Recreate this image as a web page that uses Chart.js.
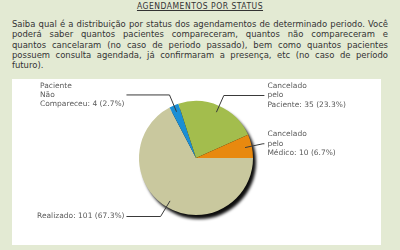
<!DOCTYPE html>
<html><head><meta charset="utf-8">
<script src="https://cdn.jsdelivr.net/npm/chart.js@4"></script>
<style>
html,body{margin:0;padding:0;}
body{width:400px;height:250px;background:#e3ead3;position:relative;overflow:hidden;font-family:"DejaVu Sans Condensed","DejaVu Sans",sans-serif;color:#333;}
#title{position:absolute;left:0;top:1px;width:400px;text-align:center;font-size:8.5px;line-height:10px;text-decoration:underline;letter-spacing:0.5px;}
#para{position:absolute;left:12px;top:19px;width:376px;font-size:9.4px;line-height:10.3px;}
#para div{text-align:justify;text-align-last:justify;white-space:nowrap;}
#para div.last{text-align-last:left;}
#panel{position:absolute;left:12px;top:79px;width:369px;height:166px;background:#fff;}
</style></head>
<body>
<div id="title">AGENDAMENTOS POR STATUS</div>
<div id="para">
<div>Saiba qual é a distribuição por status dos agendamentos de determinado periodo. Você</div>
<div>poderá saber quantos pacientes compareceram, quantos não compareceram e</div>
<div>quantos cancelaram (no caso de periodo passado), bem como quantos pacientes</div>
<div>possuem consulta agendada, já confirmaram a presença, etc (no caso de período</div>
<div class="last">futuro).</div>
</div>
<div id="panel"><canvas id="c" width="369" height="166"></canvas></div>
<script>
const categories = [
  ["Realizado"],
  ["Paciente", "Não", "Compareceu"],
  ["Cancelado", "pelo", "Paciente"],
  ["Cancelado", "pelo", "Médico"]
];
const values = [101, 4, 35, 10];
const colors = ["#c9c89e", "#1b8fd5", "#a3bd4d", "#e8890f"];

const total = values.reduce((a, b) => a + b, 0);
const labelLines = categories.map((c, i) => {
  const pct = (values[i] / total * 100).toFixed(1);
  const lines = c.slice();
  lines[lines.length - 1] = lines[lines.length - 1] + ": " + values[i] + " (" + pct + "%)";
  return lines;
});

const shadowPlugin = {
  id: 'pieShadow',
  beforeDatasetsDraw(chart) {
    const arc = chart.getDatasetMeta(0).data[0];
    if (!arc) return;
    const ctx = chart.ctx;
    ctx.save();
    ctx.filter = 'blur(1.5px)';
    ctx.fillStyle = 'rgba(0,0,0,0.95)';
    ctx.beginPath();
    ctx.arc(arc.x + 3, arc.y + 4, arc.outerRadius, 0, Math.PI * 2);
    ctx.fill();
    ctx.restore();
  }
};

const labelPlugin = {
  id: 'outLabels',
  afterDatasetsDraw(chart) {
    const ctx = chart.ctx;
    const meta = chart.getDatasetMeta(0);
    ctx.save();
    ctx.font = '7.5px "DejaVu Sans", sans-serif';
    ctx.textBaseline = 'middle';
    meta.data.forEach((arc, i) => {
      const mid = (arc.startAngle + arc.endAngle) / 2;
      const r = arc.outerRadius;
      const cos = Math.cos(mid), sin = Math.sin(mid);
      const x0 = arc.x + cos * r * 0.88, y0 = arc.y + sin * r * 0.88;
      const x1 = arc.x + cos * r * 1.2, y1 = arc.y + sin * r * 1.2;
      const right = cos >= 0;
      const xe = right ? arc.x + r * 1.2 : arc.x - r * 1.22;
      ctx.strokeStyle = '#3a3a3a';
      ctx.lineWidth = 1;
      ctx.beginPath();
      ctx.moveTo(x0, y0);
      ctx.lineTo(x1, y1);
      ctx.lineTo(xe, y1);
      ctx.stroke();
      const lines = labelLines[i];
      const lh = 9.3;
      const startY = y1 - (lines.length - 1) / 2 * lh;
      ctx.fillStyle = '#5a5a5a';
      ctx.textAlign = 'left';
      const tx = right ? xe + 3 : xe - 2;
      const maxW = Math.max(...lines.map(l => ctx.measureText(l).width));
      lines.forEach((ln, k) => {
        const lx = right ? tx : tx - maxW;
        ctx.fillText(ln, lx, startY + k * lh);
      });
    });
    ctx.restore();
  }
};

new Chart(document.getElementById('c'), {
  type: 'pie',
  data: {
    labels: categories.map(c => c.join(' ')),
    datasets: [{ data: values, backgroundColor: colors, borderWidth: 0 }]
  },
  options: {
    responsive: false,
    animation: false,
    rotation: 90,
    layout: { padding: { top: 22, bottom: 30, left: 127, right: 128 } },
    plugins: { legend: { display: false }, tooltip: { enabled: false } },
    events: []
  },
  plugins: [shadowPlugin, labelPlugin]
});
</script>
</body></html>
